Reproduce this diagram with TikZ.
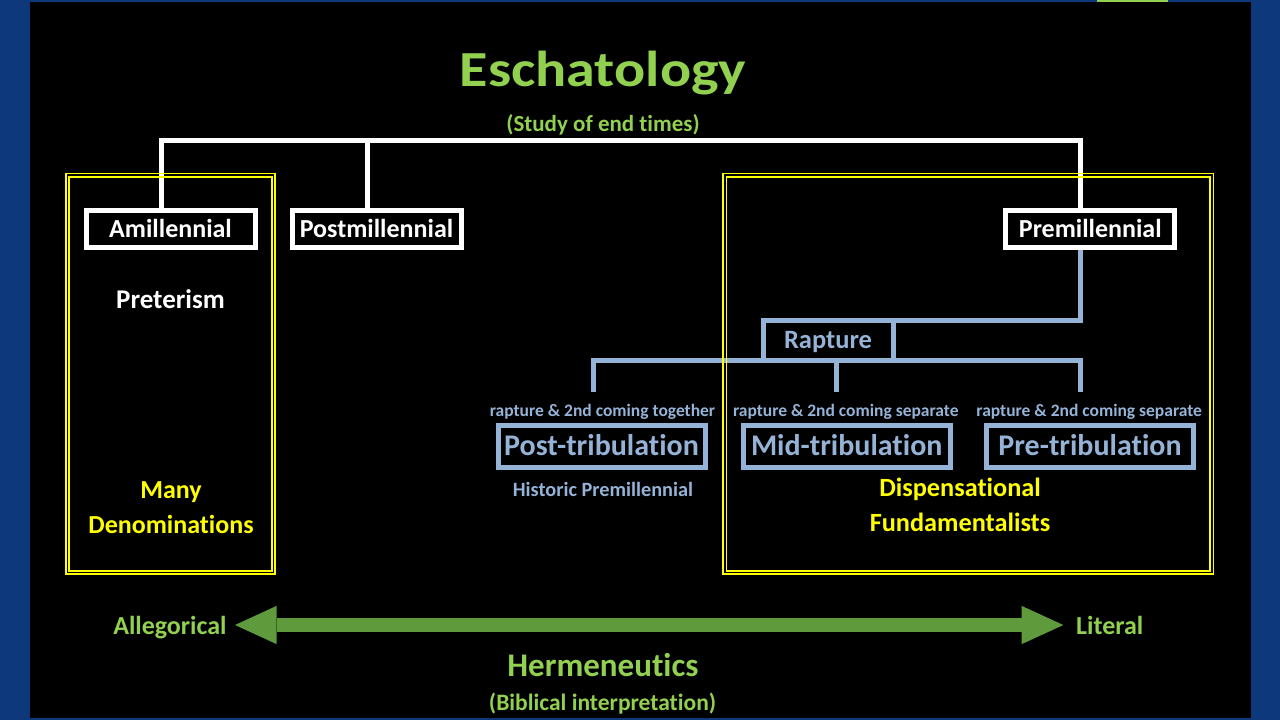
\documentclass[tikz,border=0pt]{standalone}
\usepackage{fontspec}
\setmainfont{Carlito}[RawFeature={-liga;-clig;-calt;-dlig}]
\newfontfamily\widefont{Carlito}[FakeStretch=1.15,RawFeature={-liga;-clig;-calt;-dlig}]
\usetikzlibrary{arrows.meta}
\definecolor{titlegreen}{RGB}{146,208,80}
\definecolor{arrowgreen}{RGB}{95,155,60}
\definecolor{rapblue}{RGB}{149,179,215}
\definecolor{slideblue}{RGB}{14,56,124}
\definecolor{frameyellow}{RGB}{255,255,0}
\newcommand{\fsz}[1]{\bfseries\fontsize{#1}{#1}\selectfont}

\begin{document}
\begin{tikzpicture}[x=1pt,y=-1pt]
    \tikzstyle{every node} = [inner sep=0pt]
    \tikzstyle{millbox} = [rectangle, draw=white, line width=5pt, text=white, minimum width=169pt, minimum height=37.5pt, text height=16.4pt, text depth=0pt, font=\fsz{26}]
    \tikzstyle{tribbox} = [rectangle, draw=rapblue, line width=5pt, text=rapblue, minimum width=207pt, minimum height=42pt, text height=19pt, text depth=0pt, font=\fsz{30}]
    \tikzstyle{note} = [text=rapblue, anchor=base, inner ysep=13.7pt, text height=11pt, text depth=0pt, font=\fsz{17.5}]
    \tikzstyle{wline} = [draw=white, line width=5pt]
    \tikzstyle{bline} = [draw=rapblue, line width=5pt]
    \tikzstyle{frame} = [draw=frameyellow, line width=1.7pt]
    \tikzstyle{harrow} = [draw=arrowgreen, line width=13.3pt, {Triangle[length=41.7pt,width=38.3pt,line width=0pt]}-{Triangle[length=41.7pt,width=38.3pt,line width=0pt]}]

    % Slide
    \fill[slideblue] (0,0) rectangle (1280,720);
    \fill[black] (30,2) rectangle (1250.5,718);
    \fill[titlegreen] (1096.7,0) rectangle (1167.7,1.7);

    % Title
    \node[text=titlegreen, anchor=base, font=\widefont\fsz{50.5}] (escha) at (603,86) {Eschatology};
    \node[text=titlegreen, anchor=base, font=\fsz{23}] (study) at (603,131) {(Study of end times)};

    % Millennial views
    \node[millbox] (amil) at (170.5,229) {Amillennial};
    \node[millbox] (postmil) at (376.5,229) {Postmillennial};
    \node[millbox] (premil) at (1090.3,229) {Premillennial};
    \coordinate (bar) at (603,140.8);
    \draw[wline] ([xshift=-9.5pt]amil.north) |- (bar) -| ([xshift=-9.5pt]premil.north);
    \draw[wline] ([xshift=-9.5pt]postmil.north) -- ([xshift=-9.5pt]postmil.north |- bar);

    \node[text=white, anchor=base, font=\fsz{27}] (preterism) at (170.5,308.3) {Preterism};
    \node[text=frameyellow, anchor=base, align=center, font=\bfseries\fontsize{26}{35}\selectfont] (manyden) at (171,533) {Many\\Denominations};

    % Rapture
    \node[rectangle, draw=rapblue, line width=5pt, outer sep=0pt, text=rapblue, minimum width=130pt, minimum height=40pt, text height=16.7pt, text depth=0pt, font=\fsz{26.5}] (rapture) at (828,340) {Rapture};
    \draw[bline] ([xshift=-9.5pt]premil.south) |- (rapture.north east);

    % Tribulation views
    \node[note] (postnote) at (602.5,416.7) {rapture \& 2nd coming together};
    \node[note] (midnote) at (845.8,416.7) {rapture \& 2nd coming separate};
    \node[note] (prenote) at (1089.2,416.7) {rapture \& 2nd coming separate};
    \draw[bline] ([xshift=-9.5pt]postnote.north) |- (rapture.south) -| ([xshift=-9pt]prenote.north);
    \draw[bline] ([xshift=-9pt]midnote.north) -- ([xshift=-9pt]midnote.north |- rapture.south);

    \node[tribbox] (posttrib) at (601.5,446) {Post-tribulation};
    \node[tribbox] (midtrib) at (846.7,446) {Mid-tribulation};
    \node[tribbox] (pretrib) at (1090,446) {Pre-tribulation};

    \node[text=rapblue, anchor=base, font=\fsz{20.3}] (historic) at (603,496.7) {Historic Premillennial};
    \node[text=frameyellow, anchor=base, align=center, font=\bfseries\fontsize{26.3}{35}\selectfont] (dispens) at (960,531.7) {Dispensational\\Fundamentalists};

    % Frames
    \foreach \d in {0,3.3} {
        \draw[frame] (65.9+\d,173.5+\d) rectangle (275.1-\d,574.2-\d);
        \draw[frame] (723.3+\d,173.5+\d) rectangle (1213.4-\d,574.2-\d);
    }

    % Hermeneutics
    \node[text=titlegreen, anchor=east, text height=18pt, text depth=0pt, font=\fsz{26}] (alleg) at (226.7,625) {Allegorical};
    \node[text=titlegreen, anchor=west, text height=18pt, text depth=0pt, font=\fsz{26}] (literal) at (1076,625) {Literal};
    \draw[harrow, shorten <=8.3pt, shorten >=12.7pt] (alleg.east) -- (literal.west);

    \node[text=titlegreen, anchor=base, font=\fsz{33}] (herm) at (603,676) {Hermeneutics};
    \node[text=titlegreen, anchor=base, font=\fsz{23.5}] (biblical) at (602.5,710) {(Biblical interpretation)};

\end{tikzpicture}
\end{document}
